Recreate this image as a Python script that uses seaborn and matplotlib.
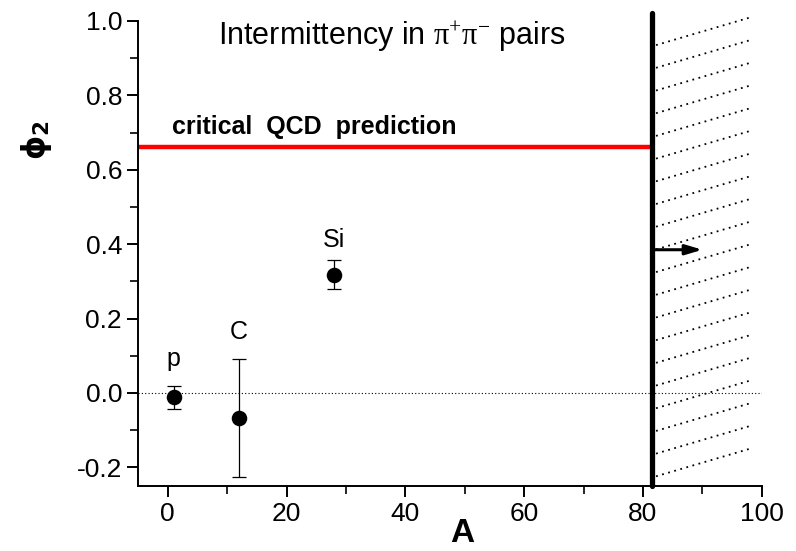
import numpy as np
import pandas as pd
import matplotlib
matplotlib.use("Agg")
import matplotlib.pyplot as plt
import seaborn as sns

# ---- data ----
systems = ["p", "C", "Si"]
A_values = [1, 12, 28]
phi2_values = [-0.012, -0.067, 0.318]
phi2_errors = [0.030, 0.158, 0.039]
label_y = [0.09, 0.165, 0.41]

qcd_prediction = 0.661
A_limit = 81.5
arrow_y = 0.385
arrow_end = 90.0

x_ticks = [0, 20, 40, 60, 80, 100]
y_ticks = [-0.2, 0.0, 0.2, 0.4, 0.6, 0.8, 1.0]

sns.set_style("ticks")
plt.rcParams["font.family"] = ["Liberation Sans", "DejaVu Sans"]
plt.rcParams["mathtext.fontset"] = "custom"
plt.rcParams["mathtext.rm"] = "Liberation Serif"
plt.rcParams["mathtext.it"] = "Liberation Serif"
plt.rcParams["text.color"] = "black"
plt.rcParams["axes.labelcolor"] = "black"
plt.rcParams["xtick.color"] = "black"
plt.rcParams["ytick.color"] = "black"

fig = plt.figure(figsize=(7.96, 5.51), dpi=100)
ax = fig.add_axes([0.1734, 0.118, 0.7836, 0.844])

df = pd.DataFrame({"A": A_values, "phi2": phi2_values, "err": phi2_errors, "sys": systems})

# zero reference line
ax.axhline(0.0, color="black", lw=0.8, ls=(0, (1, 2)), zorder=1)

# errorbars + points
ax.errorbar(df["A"], df["phi2"], yerr=df["err"], fmt="none", ecolor="black",
            elinewidth=0.9, capsize=5, capthick=0.9, zorder=3)
sns.scatterplot(data=df, x="A", y="phi2", ax=ax, color="black", s=125,
                edgecolor="black", linewidth=0, zorder=4, legend=False)

for a, ly, s in zip(A_values, label_y, systems):
    ax.text(a, ly, s, ha="center", va="center", fontsize=18)

# critical QCD line
ax.plot([-5, A_limit], [qcd_prediction, qcd_prediction], color="#ff0000", lw=3.2,
        solid_capstyle="butt", zorder=2)
ax.text(0.8, 0.715, "critical  QCD  prediction", fontsize=18, fontweight="bold",
        ha="left", va="center")

# vertical limit line
ax.plot([A_limit, A_limit], [-0.25, 1.02], color="black", lw=3.8,
        solid_capstyle="round", clip_on=False, zorder=5)

# hatching (dotted sloped lines)
hatch_starts = 0.935 - 0.061 * np.arange(20)
for b in hatch_starts:
    ax.plot([82.2, 98.4], [b, b + 0.076], color="black", lw=1.3,
            ls=(0, (1, 2.5)), clip_on=False, zorder=2)

# arrow
ax.annotate("", xy=(arrow_end, arrow_y), xytext=(A_limit, arrow_y),
            arrowprops=dict(arrowstyle="-|>,head_length=1.0,head_width=0.3",
                            color="black", lw=2.2, shrinkA=0, shrinkB=0), zorder=6)

# title inside plot
ax.text(37.8, 0.958, r"Intermittency in $\mathrm{\pi}^{+}\mathrm{\pi}^{-}$ pairs", fontsize=22,
        ha="center", va="center")

ax.set_xlim(-5, 100)
ax.set_ylim(-0.25, 1.0)
ax.set_xticks(x_ticks)
ax.set_yticks(y_ticks)
ax.set_xticklabels([str(v) for v in x_ticks])
ax.set_yticklabels([f"{v:.1f}" for v in y_ticks])
ax.set_xticks(np.arange(10, 100, 20), minor=True)
ax.set_yticks(np.arange(-0.1, 1.0, 0.2), minor=True)
ax.tick_params(which="major", direction="out", length=8, width=1.4, labelsize=19, color="black")
ax.tick_params(which="minor", direction="out", length=6, width=1.2, color="black")
sns.despine(ax=ax)
for sp in ["left", "bottom"]:
    ax.spines[sp].set_linewidth(1.4)
    ax.spines[sp].set_color("black")

ax.set_xlabel("A", fontsize=24, fontweight="bold")
ax.xaxis.set_label_coords(0.52, -0.068)
ax.set_ylabel("ϕ$_\\mathbf{2}$", fontsize=22, fontweight="bold",
              family=["DejaVu Sans"])
ax.yaxis.set_label_coords(-0.135, 0.744)

fig.savefig("out.png", dpi=100)
